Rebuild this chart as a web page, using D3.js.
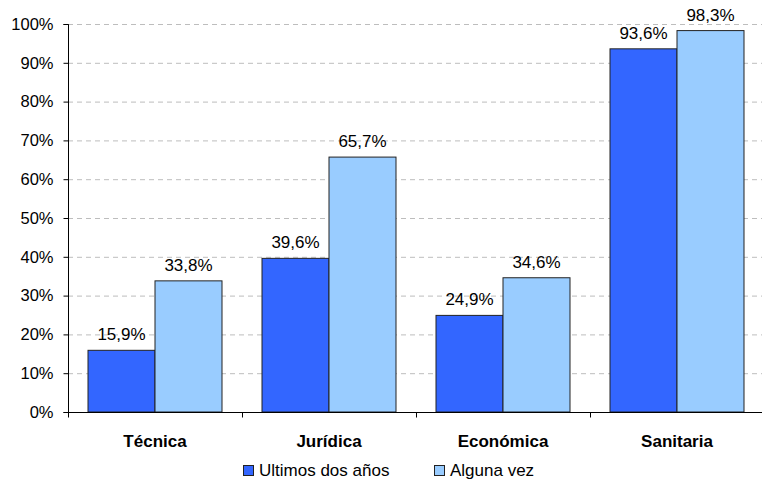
<!DOCTYPE html>
<html>
<head>
<meta charset="utf-8">
<script src="https://cdn.jsdelivr.net/npm/d3@7"></script>
<style>
  body { margin: 0; background: #fff; }
  text { font-family: "Liberation Sans", Arial, sans-serif; }
</style>
</head>
<body>
<script>
// Data
var categories = ["Técnica", "Jurídica", "Económica", "Sanitaria"];
var seriesNames = ["Ultimos dos años", "Alguna vez"];
var ultimos = [15.9, 39.6, 24.9, 93.6];
var algunaVez = [33.8, 65.7, 34.6, 98.3];
var yTicks = [0, 10, 20, 30, 40, 50, 60, 70, 80, 90, 100];
var colors = ["#3366FF", "#99CCFF"];

var width = 762, height = 480;
var plot = { left: 68, right: 764, top: 24, bottom: 412 };

var svg = d3.select("body").append("svg")
    .attr("width", width)
    .attr("height", height);

// Scales
var x = d3.scaleBand().domain(categories).range([plot.left, plot.right]);
var x1 = d3.scaleBand().domain([0, 1]).range([20, x.bandwidth() - 20]);
var y = d3.scaleLinear().domain([0, 100]).range([plot.bottom, plot.top]);

// Gridlines
svg.append("g").selectAll("line")
    .data(yTicks.filter(function (d) { return d > 0; }))
    .enter().append("line")
    .attr("x1", plot.left)
    .attr("x2", width)
    .attr("y1", function (d) { return y(d) + 0.5; })
    .attr("y2", function (d) { return y(d) + 0.5; })
    .attr("stroke", "#BDBDBD")
    .attr("stroke-dasharray", "5,4");

// Bars
var groups = svg.append("g").selectAll("g")
    .data(categories)
    .enter().append("g")
    .attr("transform", function (d) { return "translate(" + x(d) + ",0)"; });

var rows = categories.map(function (c, i) { return [ultimos[i], algunaVez[i]]; });

groups.selectAll("rect")
    .data(function (d, i) { return rows[i]; })
    .enter().append("rect")
    .attr("x", function (d, j) { return x1(j); })
    .attr("y", function (d) { return y(d); })
    .attr("width", x1.bandwidth())
    .attr("height", function (d) { return y(0) - y(d); })
    .attr("fill", function (d, j) { return colors[j]; })
    .attr("stroke", "#222")
    .attr("stroke-width", 1);

groups.selectAll("text")
    .data(function (d, i) { return rows[i]; })
    .enter().append("text")
    .attr("x", function (d, j) { return x1(j) + x1.bandwidth() / 2; })
    .attr("y", function (d) { return y(d) - 10; })
    .attr("text-anchor", "middle")
    .style("font-size", "17px")
    .attr("fill", "#000")
    .text(function (d) { return d.toFixed(1).replace(".", ",") + "%"; });

// Y axis
var yAxis = svg.append("g")
    .attr("transform", "translate(" + (plot.left + 0.5) + ",0)")
    .call(d3.axisLeft(y).tickValues(yTicks).tickSize(5).tickPadding(10)
        .tickFormat(function (d) { return d + "%"; }));
yAxis.selectAll("text").style("font-size", "16.5px").attr("fill", "#000")
    .style("font-family", "Liberation Sans, Arial, sans-serif");
yAxis.selectAll("line").attr("stroke", "#000");
yAxis.select(".domain").attr("stroke", "#000").attr("d", "M-5," + (plot.top + 0.5) + "H0V" + (plot.bottom + 0.5) + "H-5");

// X axis
var xAxis = svg.append("g")
    .attr("transform", "translate(0," + (plot.bottom + 0.5) + ")");
xAxis.append("line")
    .attr("x1", plot.left).attr("x2", width)
    .attr("stroke", "#000");
xAxis.selectAll(".sep")
    .data(categories)
    .enter().append("line")
    .attr("class", "sep")
    .attr("x1", function (d) { return Math.round(x(d)) + 0.5; })
    .attr("x2", function (d) { return Math.round(x(d)) + 0.5; })
    .attr("y1", 0).attr("y2", 5)
    .attr("stroke", "#000");
xAxis.selectAll(".cat")
    .data(categories)
    .enter().append("text")
    .attr("x", function (d) { return x(d) + x.bandwidth() / 2; })
    .attr("y", 34.5)
    .attr("text-anchor", "middle")
    .style("font-size", "17px")
    .style("font-weight", "bold")
    .text(function (d) { return d; });

// Legend
var legendX = [243, 434];
var legend = svg.append("g").selectAll("g")
    .data(seriesNames)
    .enter().append("g")
    .attr("transform", function (d, i) { return "translate(" + legendX[i] + ",465)"; });
legend.append("rect")
    .attr("width", 10).attr("height", 10)
    .attr("x", 0.5).attr("y", 0.5)
    .attr("fill", function (d, i) { return colors[i]; })
    .attr("stroke", "#222");
legend.append("text")
    .attr("x", 16)
    .attr("y", 11)
    .style("font-size", "17px")
    .text(function (d) { return d; });
</script>
</body>
</html>
